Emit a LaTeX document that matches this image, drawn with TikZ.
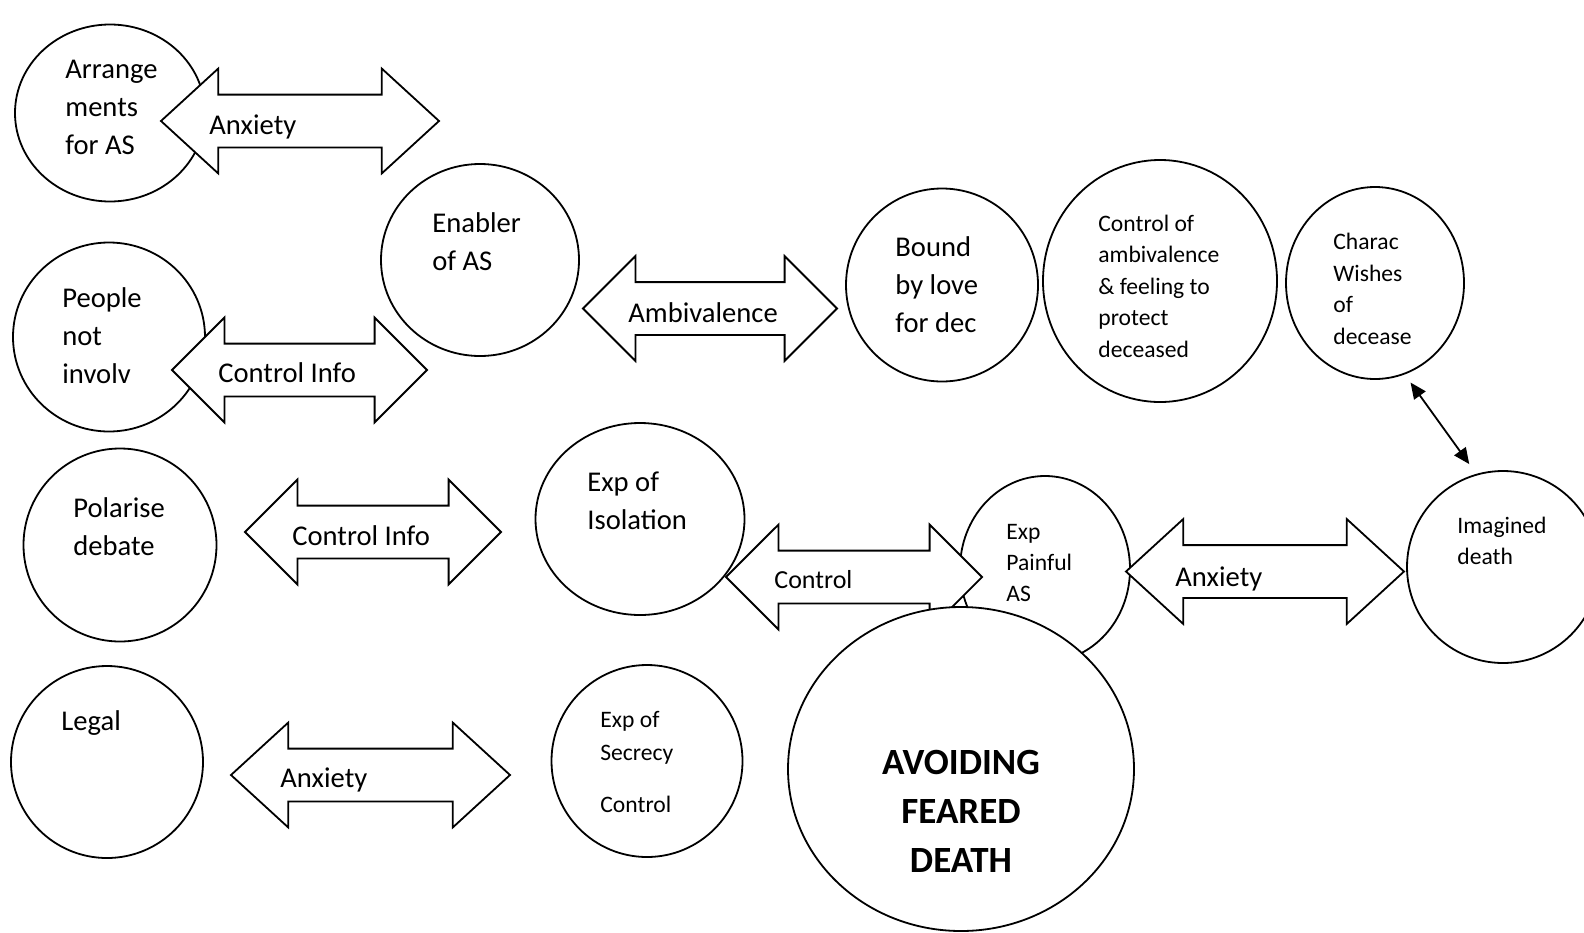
\documentclass[tikz,border=0pt]{standalone}
\usepackage{fontspec}
\setmainfont{Carlito}
\usetikzlibrary{
  arrows.meta,
  positioning,
  shapes.geometric,
  shapes.arrows
}

\begin{document}
\begin{tikzpicture}[
      x=0.5pt, y=-0.5pt,
      bubble/.style={draw, ellipse, fill=white, line width=0.9pt, inner sep=0pt},
      note/.style={anchor=west, align=left, inner sep=0pt, font=\fontsize{14.3}{19}\selectfont},
      smallnote/.style={note, font=\fontsize{11.8}{15.75}\selectfont},
      band/.style={draw, fill=white, double arrow, line width=0.9pt, inner xsep=0pt, inner ysep=12.75pt, double arrow head extend=13pt, double arrow tip angle=90},
      longband/.style={band, double arrow tip angle=85},
      bandlabel/.style={anchor=base west, inner sep=0pt, font=\fontsize{14.3}{17}\selectfont},
      link/.style={line width=0.9pt, {Triangle[length=8pt,width=7pt]}-{Triangle[length=8pt,width=7pt]}, shorten <=5pt, shorten >=6pt}
  ]
      \useasboundingbox (0,0) rectangle (1584,932);
      \fill[white] (0,0) rectangle (1584,932);

      % Bolhas
      \node[bubble, minimum width=95pt, minimum height=88.5pt] (arr) at (110,113) {};
      \node[bubble, minimum width=96pt, minimum height=94.5pt] (ppl) at (109,337) {};
      \node[bubble, minimum width=96.5pt, minimum height=96.5pt] (pol) at (120,545) {};
      \node[bubble, minimum width=96pt, minimum height=96pt] (legal) at (107,762) {};
      \node[bubble, minimum width=99pt, minimum height=96pt] (enab) at (480,260) {};
      \node[bubble, minimum width=104.5pt, minimum height=96pt] (iso) at (640,519) {};
      \node[bubble, minimum width=95.5pt, minimum height=96pt] (secr) at (647,761) {};
      \node[bubble, minimum width=96pt, minimum height=96.5pt] (bound) at (942,285) {};
      \node[bubble, minimum width=117pt, minimum height=121pt] (ctrl) at (1160,281) {};
      \node[bubble, minimum width=89pt, minimum height=96pt] (charac) at (1375,283) {};
      \node[bubble, minimum width=85pt, minimum height=93pt] (pain) at (1045,569) {};
      \node[bubble, minimum width=96pt, minimum height=96pt] (imag) at (1503,567) {};

      % Textos
      \node[note] (tarr) at (65,107) {Arrange\\ments\\for AS};
      \node[note] (tppl) at (62,336) {People\\not\\involv};
      \node[note] (tpol) at (73,527) {Polarise\\debate};
      \node[note] (tlegal) at (61,723) {Legal};
      \node[note] (tenab) at (432,242) {Enabler\\of AS};
      \node[note] (tiso) at (587,501) {Exp of\\Isolation};
      \node[smallnote, font=\fontsize{11.8}{16.5}\selectfont] (tsecr) at (600,762) {Exp of\\Secrecy\\[9.5pt]Control};
      \node[note] (tbound) at (895,285) {Bound\\by love\\for dec};
      \node[smallnote] (tctrl) at (1098,286) {Control of\\ambivalence\\\& feeling to\\protect\\deceased};
      \node[smallnote] (tcharac) at (1333,289) {Charac\\Wishes\\of\\decease};
      \node[smallnote] (tpain) at (1006,563) {Exp\\Painful\\AS};
      \node[smallnote] (timag) at (1457,541) {Imagined\\death};

      % Setas duplas
      \node[longband, minimum height=139pt] (a1) at (300,121) {};
      \node[bandlabel] (l1) at ([xshift=-45.5pt, yshift=-6.5pt]a1.center) {Anxiety};
      \node[band, minimum height=127.5pt] (a2) at (299.5,370) {};
      \node[bandlabel] (l2) at ([xshift=-40.75pt, yshift=-6pt]a2.center) {Control Info};
      \node[band, minimum height=127pt] (a3) at (710,308.5) {};
      \node[bandlabel] (l3) at ([xshift=-41pt, yshift=-6.75pt]a3.center) {Ambivalence};
      \node[band, minimum height=128pt] (a4) at (854,577) {};
      \node[bandlabel, font=\fontsize{13}{16}\selectfont] (l4) at ([xshift=-40pt, yshift=-5.5pt]a4.center) {Control};
      \node[longband, minimum height=139pt] (a5) at (1265,571.5) {};
      \node[bandlabel] (l5) at ([xshift=-45pt, yshift=-7.25pt]a5.center) {Anxiety};
      \node[band, minimum height=128pt] (a6) at (373,532) {};
      \node[bandlabel] (l6) at ([xshift=-40.5pt, yshift=-6.5pt]a6.center) {Control Info};
      \node[longband, minimum height=139.5pt] (a7) at (370.5,775) {};
      \node[bandlabel] (l7) at ([xshift=-45.25pt, yshift=-6pt]a7.center) {Anxiety};

      \draw[link] (charac.-72) -- (imag.106);

      % Centro
      \node[bubble, minimum width=173pt, minimum height=162pt] (avoid) at (961,769) {};
      \node[align=center, inner sep=0pt, font=\fontsize{18.5}{24.5}\selectfont\bfseries] (tavoid) at (961,811) {AVOIDING\\FEARED\\DEATH};

  \end{tikzpicture}
\end{document}
